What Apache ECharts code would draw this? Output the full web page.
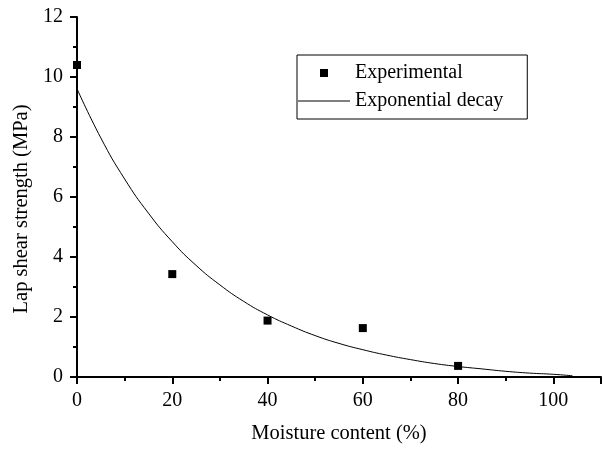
<!DOCTYPE html>
<html>
<head>
<meta charset="utf-8">
<script src="https://cdn.jsdelivr.net/npm/echarts@6/dist/echarts.min.js"></script>
<style>
  html, body { margin: 0; padding: 0; background: #fff; }
  #chart { width: 603px; height: 449px; }
</style>
</head>
<body>
<div id="chart"></div>
<script>
// Measured lap shear strength vs. moisture content
const moisture = [0, 20, 40, 60, 80];
const strength = [10.4, 3.43, 1.88, 1.63, 0.37];

// Fitted exponential decay curve (sampled)
const fitX = [0, 5, 10, 15, 20, 25, 30, 35, 40, 45, 50, 55, 60, 65, 70, 75, 80, 85, 90, 95, 100, 104];
const fitY = [9.61, 7.97, 6.60, 5.46, 4.51, 3.72, 3.07, 2.52, 2.07, 1.70, 1.38, 1.12, 0.91, 0.73, 0.58, 0.45, 0.35, 0.27, 0.19, 0.13, 0.09, 0.04];

const seriesNames = ['Experimental', 'Exponential decay'];

const font = 'Liberation Serif, Times New Roman, serif';
const chart = echarts.init(document.getElementById('chart'), null, { renderer: 'canvas' });

chart.setOption({
  backgroundColor: '#fff',
  animation: false,
  grid: { left: 77, right: 2, top: 17, bottom: 70 },
  legend: {
    orient: 'vertical',
    left: 297,
    top: 55,
    padding: [8, 24, 8, 1],
    itemGap: 8,
    itemWidth: 52,
    itemHeight: 8,
    borderColor: '#000',
    borderWidth: 1,
    textStyle: { fontFamily: font, fontSize: 20, color: '#000', lineHeight: 20 },
    data: [
      { name: seriesNames[0], icon: 'path://M0,0h1v1h-1z', itemStyle: { color: '#000', opacity: 1 } },
      { name: seriesNames[1], icon: 'path://M0,0h52v1h-52z', itemStyle: { color: '#000' } }
    ]
  },
  xAxis: {
    type: 'value',
    min: 0,
    max: 110,
    interval: 20,
    name: 'Moisture content (%)',
    nameLocation: 'middle',
    nameGap: 46,
    nameTextStyle: { fontFamily: font, fontSize: 20.5, color: '#000' },
    axisLine: { show: true, onZero: false, lineStyle: { color: '#000', width: 2 } },
    axisTick: { show: true, inside: false, length: 7, lineStyle: { color: '#000', width: 2 } },
    minorTick: { show: true, splitNumber: 2, length: 4, lineStyle: { color: '#000', width: 2 } },
    axisLabel: { fontFamily: font, fontSize: 20, color: '#000', margin: 14, showMaxLabel: false },
    splitLine: { show: false }
  },
  yAxis: {
    type: 'value',
    min: 0,
    max: 12,
    interval: 2,
    name: 'Lap shear strength (MPa)',
    nameLocation: 'middle',
    nameGap: 42,
    nameTextStyle: { fontFamily: font, fontSize: 20.5, color: '#000', padding: [0, 24, 0, 0] },
    axisLine: { show: true, lineStyle: { color: '#000', width: 2 } },
    axisTick: { show: true, inside: false, length: 7, lineStyle: { color: '#000', width: 2 } },
    minorTick: { show: true, splitNumber: 2, length: 4, lineStyle: { color: '#000', width: 2 } },
    axisLabel: { fontFamily: font, fontSize: 20, color: '#000', margin: 14 },
    splitLine: { show: false }
  },
  series: [
    {
      name: seriesNames[0],
      type: 'scatter',
      symbol: 'rect',
      symbolSize: 8,
      itemStyle: { color: '#000', opacity: 1 },
      data: moisture.map((x, i) => [x, strength[i]]),
      z: 5
    },
    {
      name: seriesNames[1],
      type: 'line',
      smooth: true,
      showSymbol: false,
      symbol: 'none',
      lineStyle: { color: '#000', width: 1 },
      itemStyle: { color: '#000' },
      data: fitX.map((x, i) => [x, fitY[i]]),
      z: 4
    }
  ]
});
</script>
</body>
</html>
